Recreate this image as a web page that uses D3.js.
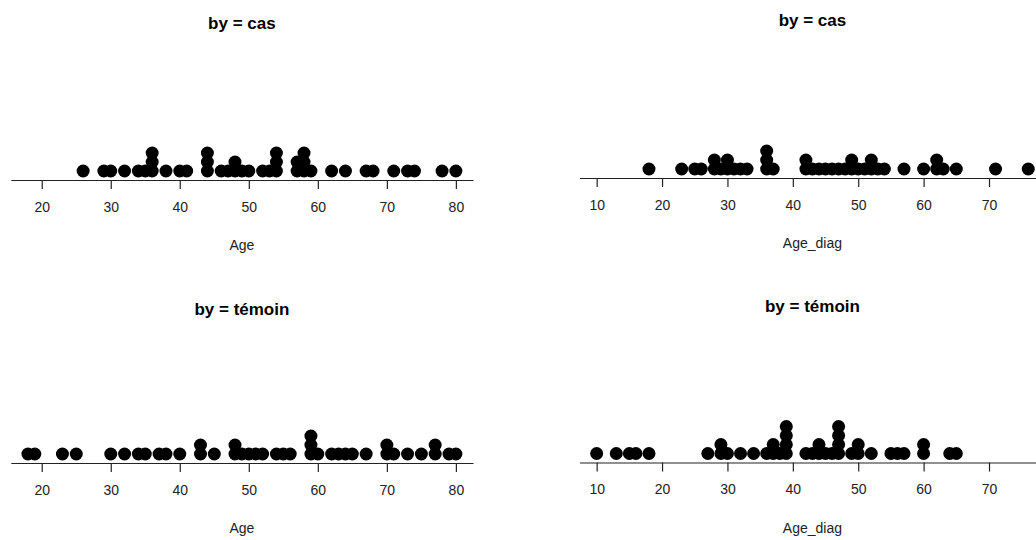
<!DOCTYPE html>
<html>
<head>
<meta charset="utf-8">
<script src="https://cdn.jsdelivr.net/npm/d3@7"></script>
<style>
    body { margin: 0; background: #fff; }
    svg { display: block; }
    .tick text { font-family: "Liberation Sans", Arial, sans-serif; font-size: 14px; fill: #222; }
</style>
</head>
<body>
<div id="chart"></div>
<script>
// Values (stacked dots = repeated values)
const ageCas = [26, 29, 30, 32, 34, 35, 36, 36, 36, 38, 40, 41, 44, 44, 44, 46, 47, 48, 48, 49, 50,
    52, 53, 54, 54, 54, 57, 57, 58, 58, 58, 59, 62, 64, 67, 68, 71, 73, 74, 78, 80];
const ageDiagCas = [18, 23, 25, 26, 28, 28, 29, 30, 30, 31, 32, 33, 36, 36, 36, 37, 42, 42, 43, 44, 45,
    46, 47, 48, 49, 49, 50, 51, 52, 52, 53, 54, 57, 60, 62, 62, 63, 65, 71, 76];
const ageTemoin = [18, 19, 23, 25, 30, 32, 34, 35, 37, 38, 40, 43, 43, 45, 48, 48, 49, 50, 51, 52, 54,
    55, 56, 59, 59, 59, 60, 62, 63, 64, 65, 67, 70, 70, 71, 73, 75, 77, 77, 79, 80];
const ageDiagTemoin = [10, 13, 15, 16, 18, 27, 29, 29, 30, 32, 34, 36, 37, 37, 38, 39, 39, 39, 39, 42,
    43, 44, 44, 45, 46, 47, 47, 47, 47, 49, 50, 50, 52, 55, 56, 57, 60, 60, 64, 65];

const groups = ['cas', 'témoin'];
const variables = ['Age', 'Age_diag'];
const ageTicks = [20, 30, 40, 50, 60, 70, 80];
const ageDiagTicks = [10, 20, 30, 40, 50, 60, 70];

const width = 1036;
const height = 540;

const svg = d3.select('#chart')
    .append('svg')
    .attr('width', width)
    .attr('height', height);

// R-style xlim: data range extended by 4% on each side
function paddedDomain(a, b) {
    const lo = d3.min(a.concat(b)), hi = d3.max(a.concat(b));
    const pad = (hi - lo) * 0.04;
    return [lo - pad, hi + pad];
}

const ageDomain = paddedDomain(ageCas, ageTemoin);
const ageDiagDomain = paddedDomain(ageDiagCas, ageDiagTemoin);

const panels = [
    {values: ageCas, group: groups[0], label: variables[0], domain: ageDomain, ticks: ageTicks,
     x0: 10.8, x1: 473, axisY: 180, titleY: 28.5},
    {values: ageDiagCas, group: groups[0], label: variables[1], domain: ageDiagDomain, ticks: ageDiagTicks,
     x0: 579.4, x1: 1045.5, axisY: 178, titleY: 26},
    {values: ageTemoin, group: groups[1], label: variables[0], domain: ageDomain, ticks: ageTicks,
     x0: 10.8, x1: 473, axisY: 463, titleY: 314.5},
    {values: ageDiagTemoin, group: groups[1], label: variables[1], domain: ageDiagDomain, ticks: ageDiagTicks,
     x0: 579.4, x1: 1045.5, axisY: 462.5, titleY: 312}
];

panels.forEach(p => {
    const x = d3.scaleLinear().domain(p.domain).range([p.x0, p.x1]);
    const g = svg.append('g');

    // axis along the bottom of the strip
    g.append('g')
        .attr('transform', `translate(0,${p.axisY})`)
        .call(d3.axisBottom(x).tickValues(p.ticks).tickSize(9).tickSizeOuter(0).tickPadding(13))
        .call(a => a.selectAll('path, line').attr('stroke', '#222').attr('stroke-width', 1.2));

    // stack repeated values
    const counts = new Map();
    const dots = p.values.map(v => {
        const k = counts.get(v) || 0;
        counts.set(v, k + 1);
        return {v, k};
    });

    g.append('g')
        .selectAll('circle')
        .data(dots)
        .join('circle')
        .attr('cx', d => x(d.v))
        .attr('cy', d => p.axisY - 9 - d.k * 9)
        .attr('r', 6.5)
        .attr('fill', '#000');

    const cx = (p.x0 + p.x1) / 2;

    g.append('text')
        .attr('x', cx)
        .attr('y', p.titleY)
        .attr('text-anchor', 'middle')
        .style('font-family', '"Liberation Sans", Arial, sans-serif')
        .style('font-size', '17px')
        .style('font-weight', 'bold')
        .text(`by = ${p.group}`);

    g.append('text')
        .attr('x', cx)
        .attr('y', p.axisY + 70)
        .attr('text-anchor', 'middle')
        .style('font-family', '"Liberation Sans", Arial, sans-serif')
        .style('font-size', '14px')
        .attr('fill', '#222')
        .text(p.label);
});
</script>
</body>
</html>
